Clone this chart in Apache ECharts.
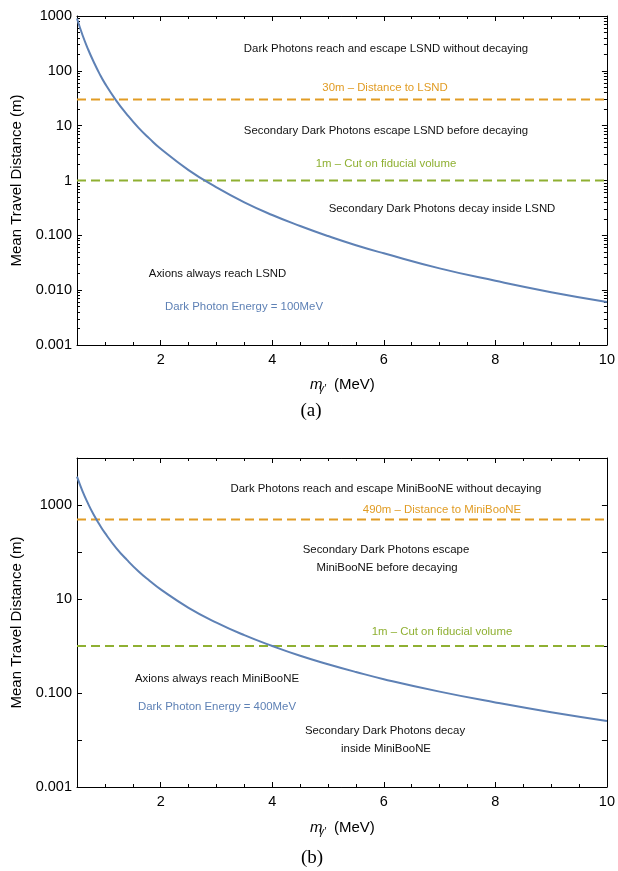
<!DOCTYPE html>
<html><head><meta charset="utf-8">
<script src="https://cdn.jsdelivr.net/npm/echarts@6/dist/echarts.min.js"></script>
<style>html,body{margin:0;padding:0;background:#fff}#c{width:618px;height:871px}</style>
</head><body><div id="c"></div>
<script>
// ---- data ----
const massMeV = [0.5,0.6,0.7,0.8,0.9,1.0,1.2,1.4,1.6,1.8,2.0,2.5,3.0,3.5,4.0,4.5,5.0,5.5,6.0,7.0,8.0,9.0,10.0];
const lsndDistance = [900,445,245,145,90,59,29,15.8,9.2,5.8,3.8,1.55,0.75,0.40,0.235,0.148,0.097,0.066,0.047,0.025,0.0148,0.0092,0.0061];
const minibooneDistance = [4000,1950,1060,620,390,255,123,67,39,24.5,16,6.5,3.15,1.70,1.0,0.62,0.41,0.28,0.197,0.107,0.063,0.039,0.0255];
const lsndThresholds = [30, 1];
const minibooneThresholds = [490, 1];
const xRange = [0.5, 10];
const xMajorTicks = [2,4,6,8,10];
const xMinorTicks = [0.5,1,1.5,2.5,3,3.5,4.5,5,5.5,6.5,7,7.5,8.5,9,9.5];
const lsndYRange = [0.001, 1000];
const lsndYTicks = [0.001,0.01,0.1,1,10,100,1000];
const lsndYLabels = ['0.001','0.010','0.100','1','10','100','1000'];
const minibooneYRange = [0.001, 10000];
const minibooneYTicks = [0.001,0.01,0.1,1,10,100,1000,10000];
const minibooneYLabels = ['0.001','','0.100','','10','','1000',''];

const BLUE = '#5E81B5', ORANGE = '#E19C24', GREEN = '#8FB032';
const FONT = '"Liberation Sans", Arial, sans-serif';

function minorLog(range) {
  const out = [];
  for (let e = Math.round(Math.log10(range[0])); e < Math.round(Math.log10(range[1])); e++)
    for (let k = 2; k <= 9; k++) out.push(Math.log10(k) + e);
  return out;
}

const grids = [
  {left: 77, top: 16, width: 533, height: 329},
  {left: 77, top: 458, width: 533, height: 329}
];

const xAxis = [], yAxis = [], series = [];
const axisLineOn = {show: true, onZero: false, lineStyle: {color: '#000', width: 1}};
const axisLineOff = {show: false, onZero: false};

function addPanel(gi, yRange, yTicks, yLabels, values, thresholds, minor) {
  const xi0 = xAxis.length;
  const base = {type: 'value', gridIndex: gi, min: xRange[0], max: xRange[1], splitLine: {show: false}};
  xAxis.push(Object.assign({}, base, {position: 'bottom', axisLine: axisLineOn,
    axisTick: {show: true, inside: true, length: 5, customValues: xMajorTicks, lineStyle: {color: '#000'}},
    axisLabel: {show: true, customValues: xMajorTicks, fontSize: 14.5, color: '#000', fontFamily: FONT, margin: 7}}));
  xAxis.push(Object.assign({}, base, {position: 'bottom', axisLine: axisLineOff,
    axisTick: {show: true, inside: true, length: 3, customValues: xMinorTicks, lineStyle: {color: '#000'}},
    axisLabel: {show: false}}));
  xAxis.push(Object.assign({}, base, {position: 'top', axisLine: axisLineOn,
    axisTick: {show: true, inside: true, length: 5, customValues: xMajorTicks, lineStyle: {color: '#000'}},
    axisLabel: {show: false}}));
  xAxis.push(Object.assign({}, base, {position: 'top', axisLine: axisLineOff,
    axisTick: {show: true, inside: true, length: 3, customValues: xMinorTicks, lineStyle: {color: '#000'}},
    axisLabel: {show: false}}));

  const yi0 = yAxis.length;
  const span = Math.round(Math.log10(yRange[1]) - Math.log10(yRange[0]));
  yAxis.push({type: 'log', logBase: 10, gridIndex: gi, min: yRange[0], max: yRange[1], splitNumber: span,
    position: 'left', axisLine: axisLineOn, axisTick: {show: false}, splitLine: {show: false},
    axisLabel: {show: true, fontSize: 14.5, color: '#000', fontFamily: FONT, margin: 5,
      formatter: function (v) {
        for (let i = 0; i < yTicks.length; i++)
          if (Math.abs(Math.log10(v) - Math.log10(yTicks[i])) < 1e-6) return yLabels[i];
        return '';
      }},
    name: 'Mean Travel Distance (m)', nameLocation: 'middle', nameGap: 51,
    nameTextStyle: {fontSize: 15, color: '#000', fontFamily: FONT}});
  const lmin = Math.log10(yRange[0]), lmax = Math.log10(yRange[1]);
  const majorL = yTicks.map(Math.log10);
  const minorL = minor ? minorLog(yRange) : [];
  const auxBase = {type: 'value', gridIndex: gi, min: lmin, max: lmax, splitLine: {show: false}, axisLabel: {show: false}};
  ['left', 'right'].forEach(function (pos) {
    yAxis.push(Object.assign({}, auxBase, {position: pos, axisLine: pos === 'right' ? axisLineOn : axisLineOff,
      axisTick: {show: true, inside: true, length: 5, customValues: majorL, lineStyle: {color: '#000'}}}));
    if (minor) yAxis.push(Object.assign({}, auxBase, {position: pos, axisLine: axisLineOff,
      axisTick: {show: true, inside: true, length: 3, customValues: minorL, lineStyle: {color: '#000'}}}));
  });

  series.push({type: 'line', xAxisIndex: xi0, yAxisIndex: yi0, showSymbol: false, smooth: 0.5,
    lineStyle: {color: BLUE, width: 2}, silent: true, z: 3,
    data: massMeV.map(function (m, i) { return [m, values[i]]; })});
  [ORANGE, GREEN].forEach(function (col, k) {
    series.push({type: 'line', xAxisIndex: xi0, yAxisIndex: yi0, showSymbol: false, silent: true, z: 2,
      lineStyle: {color: col, width: 2, type: [9, 5]},
      data: [[xRange[0], thresholds[k]], [xRange[1], thresholds[k]]]});
  });
}

addPanel(0, lsndYRange, lsndYTicks, lsndYLabels, lsndDistance, lsndThresholds, true);
addPanel(1, minibooneYRange, minibooneYTicks, minibooneYLabels, minibooneDistance, minibooneThresholds, false);

function txt(s, x, y, color, size, extra) {
  return {type: 'text', x: x, y: y, silent: true, z: 10,
    style: Object.assign({text: s, fill: color || '#111', fontSize: size || 11.4, fontFamily: FONT,
      align: 'center', verticalAlign: 'middle'}, extra || {})};
}

const graphics = [
  txt('Dark Photons reach and escape LSND without decaying', 386, 49),
  txt('30m – Distance to LSND', 385, 88, ORANGE),
  txt('Secondary Dark Photons escape LSND before decaying', 386, 131),
  txt('1m – Cut on fiducial volume', 386, 164, GREEN),
  txt('Secondary Dark Photons decay inside LSND', 442, 209),
  txt('Axions always reach LSND', 217.5, 274),
  txt('Dark Photon Energy = 100MeV', 244, 307, BLUE),
  txt('Dark Photons reach and escape MiniBooNE without decaying', 386, 489),
  txt('490m – Distance to MiniBooNE', 442, 510, ORANGE),
  txt('Secondary Dark Photons escape', 386, 550),
  txt('MiniBooNE before decaying', 387, 568),
  txt('1m – Cut on fiducial volume', 442, 632, GREEN),
  txt('Axions always reach MiniBooNE', 217, 679),
  txt('Dark Photon Energy = 400MeV', 217, 707, BLUE),
  txt('Secondary Dark Photons decay', 385, 731),
  txt('inside MiniBooNE', 386, 749),
  txt('(a)', 311, 411, '#000', 19, {fontFamily: '"Liberation Serif", "DejaVu Serif", serif'}),
  txt('(b)', 312, 858, '#000', 19, {fontFamily: '"Liberation Serif", "DejaVu Serif", serif'})
];
[385, 828].forEach(function (cy) {
  graphics.push(txt('m', 310, cy, '#000', 15, {align: 'left', fontStyle: 'italic'}));
  graphics.push(txt('γ\u2032', 319, cy + 4, '#000', 10, {align: 'left', fontStyle: 'italic'}));
  graphics.push(txt('(MeV)', 334, cy, '#000', 15, {align: 'left'}));
});

const chart = echarts.init(document.getElementById('c'), null, {renderer: 'canvas'});
chart.setOption({
  animation: false,
  backgroundColor: '#fff',
  grid: grids,
  xAxis: xAxis,
  yAxis: yAxis,
  series: series,
  graphic: graphics
});
</script>
</body></html>
